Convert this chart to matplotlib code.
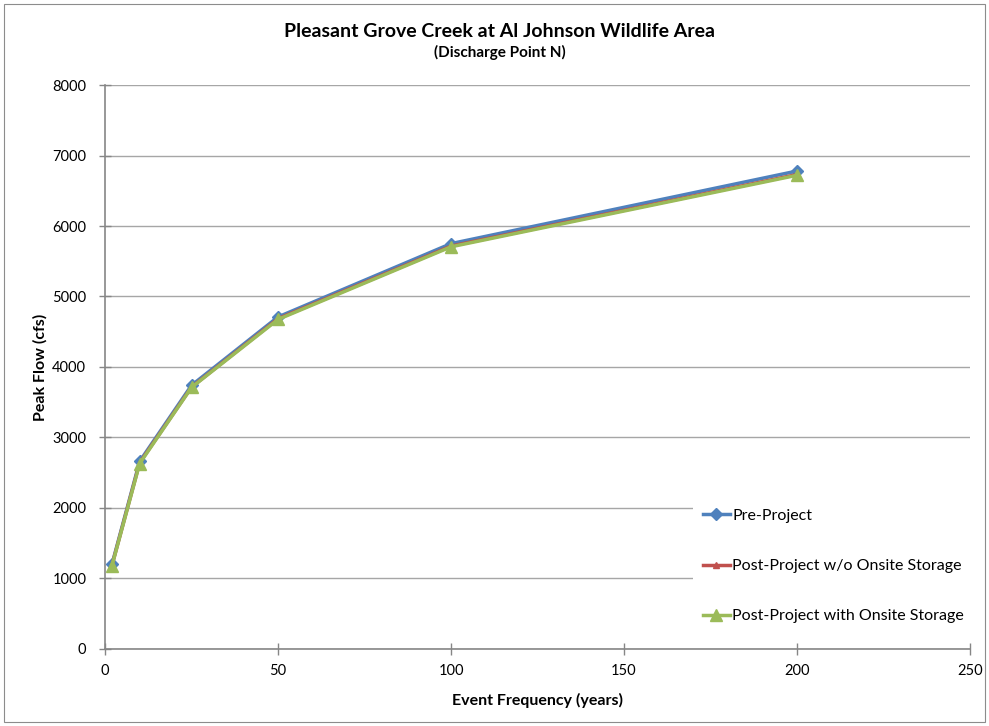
import matplotlib
matplotlib.use("Agg")
import matplotlib.pyplot as plt
from matplotlib.patches import Rectangle

plt.rcParams['font.family'] = ['Lato', 'DejaVu Sans']

# Return period (years) and peak discharge (cfs)
event_years = [2, 10, 25, 50, 100, 200]
pre_project = [1200, 2660, 3740, 4710, 5750, 6780]
post_no_storage = [1185, 2640, 3715, 4685, 5715, 6730]
post_with_storage = [1180, 2630, 3710, 4675, 5705, 6720]

x_ticks = [0, 50, 100, 150, 200, 250]
y_ticks = [0, 1000, 2000, 3000, 4000, 5000, 6000, 7000, 8000]

fig = plt.figure(figsize=(9.89, 7.26), dpi=100)
fig.patches.append(Rectangle((0.004, 0.005), 0.992, 0.99, transform=fig.transFigure,
                             fill=False, edgecolor='#8c8c8c', linewidth=0.8))
ax = fig.add_axes([0.1062, 0.1061, 0.8746, 0.7768])

ax.plot(event_years, pre_project, color='#4F81BD', linewidth=2.5, marker='D',
        markersize=6, label='Pre-Project', zorder=3)
ax.plot(event_years, post_no_storage, color='#C0504D', linewidth=2.5, marker='^',
        markersize=5, label='Post-Project w/o Onsite Storage', zorder=4)
ax.plot(event_years, post_with_storage, color='#9BBB59', linewidth=2.5, marker='^',
        markersize=8, label='Post-Project with Onsite Storage', zorder=5)

ax.set_xlim(0, 250)
ax.set_ylim(0, 8000)
ax.set_xticks(x_ticks)
ax.set_yticks(y_ticks)
ax.tick_params(axis='both', labelsize=10.5, direction='inout', length=9,
               color='#868686', width=1)
ax.tick_params(axis='y', pad=9)
ax.tick_params(axis='x', pad=6)
ax.yaxis.grid(True, color='#a6a6a6', linewidth=1)
ax.set_axisbelow(True)
for side in ('top', 'right'):
    ax.spines[side].set_visible(False)
for side in ('left', 'bottom'):
    ax.spines[side].set_color('#868686')
    ax.spines[side].set_linewidth(1.2)

ax.set_xlabel('Event Frequency (years)', fontsize=11.5, fontweight='bold', labelpad=11)
ax.set_ylabel('Peak Flow (cfs)', fontsize=11.5, fontweight='bold', labelpad=3)

fig.text(0.5055, 0.957, 'Pleasant Grove Creek at Al Johnson Wildlife Area',
         ha='center', va='center', fontsize=14, fontweight='bold')
fig.text(0.5055, 0.928, '(Discharge Point N)', ha='center', va='center',
         fontsize=11, fontweight='bold')

leg = ax.legend(loc='center left', bbox_to_anchor=(0.68, 0.147),
                frameon=True, fontsize=11.5, handlelength=1.7,
                handletextpad=0.15, labelspacing=2.25, borderpad=0.6,
                borderaxespad=0)
leg.get_frame().set_edgecolor('none')
leg.get_frame().set_facecolor('white')
leg.get_frame().set_alpha(1)
leg.get_frame().set_boxstyle('square', pad=0)

fig.savefig('out.png', dpi=100)
